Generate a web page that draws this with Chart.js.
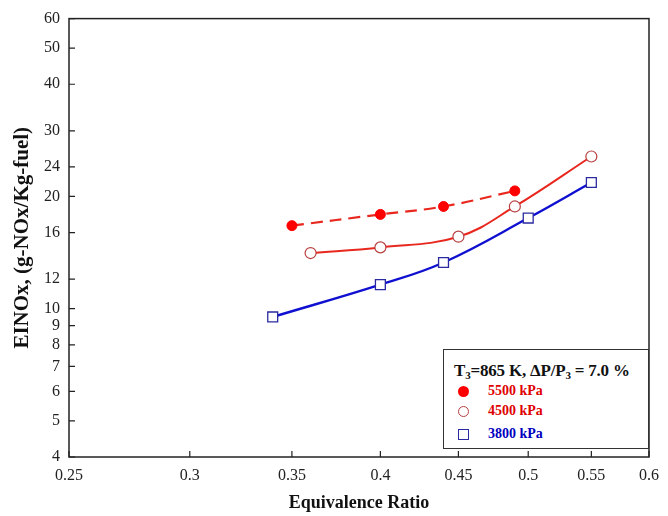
<!DOCTYPE html>
<html>
<head>
<meta charset="utf-8">
<script src="https://cdn.jsdelivr.net/npm/chart.js@4.4.1/dist/chart.umd.min.js"></script>
<style>
  body { margin: 0; background: #fff; }
  #wrap { position: relative; width: 668px; height: 516px; }
  #legend {
    position: absolute; left: 443px; top: 349px; width: 204px; height: 98px;
    border: 1.6px solid #333; background: #fff;
    font-family: "Liberation Serif", "Times New Roman", serif; font-weight: bold;
  }
  #legend .head { position: absolute; left: 10px; top: 11px; font-size: 17px; color: #111; white-space: nowrap; letter-spacing: -0.2px; }
  #legend .head sub { font-size: 11px; vertical-align: -3px; line-height: 0; }
  #legend .row { position: absolute; left: 14px; font-size: 14px; white-space: nowrap; }
  #legend .row .mk { position: absolute; left: 0; top: 3px; box-sizing: border-box; }
  #legend .row .tx { position: absolute; left: 30px; top: 0; }
  .dot { width: 11px; height: 11px; border-radius: 50%; background: #ff0000; }
  .ring { width: 11px; height: 11px; border-radius: 50%; border: 1.3px solid #b84040; background: #fff; }
  .sq { width: 11px; height: 11px; border: 1.3px solid #2a2aa0; background: #fff; }
</style>
</head>
<body>
<div id="wrap">
  <canvas id="chart" width="668" height="516"></canvas>
  <div id="legend">
    <div class="head">T<sub>3</sub>=865 K, ΔP/P<sub>3</sub> = 7.0 %</div>
    <div class="row" style="top:33px"><span class="mk dot"></span><span class="tx" style="color:#e00000">5500 kPa</span></div>
    <div class="row" style="top:53px"><span class="mk ring"></span><span class="tx" style="color:#e00000">4500 kPa</span></div>
    <div class="row" style="top:76px"><span class="mk sq"></span><span class="tx" style="color:#0000c0">3800 kPa</span></div>
  </div>
</div>
<script>
// Data
const phi5500 = [0.35, 0.40, 0.44, 0.49];
const ei5500 = [16.7, 17.9, 18.8, 20.7];
const phi4500 = [0.36, 0.40, 0.45, 0.49, 0.55];
const ei4500 = [14.1, 14.6, 15.6, 18.8, 25.6];
const phi3800 = [0.34, 0.40, 0.44, 0.50, 0.55];
const ei3800 = [9.5, 11.6, 13.3, 17.5, 21.8];

const xTicks = [0.25, 0.3, 0.35, 0.4, 0.45, 0.5, 0.55, 0.6];
const yTicks = [4, 5, 6, 7, 8, 9, 10, 12, 16, 20, 24, 30, 40, 50, 60];

function toPoints(xs, ys) {
  return xs.map((x, i) => ({ x: x, y: ys[i] }));
}

const serif = '"Liberation Serif", "Times New Roman", serif';

// Frame and inward tick marks
const framePlugin = {
  id: 'frame',
  afterDraw(chart) {
    const ctx = chart.ctx;
    const a = chart.chartArea;
    const xs = chart.scales.x;
    const ys = chart.scales.y;
    ctx.save();
    ctx.strokeStyle = '#222';
    ctx.lineWidth = 1.5;
    ctx.strokeRect(a.left, a.top, a.right - a.left, a.bottom - a.top);
    ctx.lineWidth = 1.2;
    ctx.beginPath();
    xTicks.forEach(v => {
      const px = xs.getPixelForValue(v);
      ctx.moveTo(px, a.bottom);
      ctx.lineTo(px, a.bottom - 6);
    });
    yTicks.forEach(v => {
      const py = ys.getPixelForValue(v);
      ctx.moveTo(a.left, py);
      ctx.lineTo(a.left + 6, py);
    });
    ctx.stroke();
    ctx.restore();
  }
};

new Chart(document.getElementById('chart'), {
  type: 'scatter',
  data: {
    datasets: [
      {
        label: '5500 kPa',
        data: toPoints(phi5500, ei5500),
        showLine: true,
        borderColor: '#e8281e',
        borderWidth: 2.2,
        borderDash: [12, 7],
        tension: 0.4,
        pointStyle: 'circle',
        pointRadius: 5,
        pointBackgroundColor: '#ff0000',
        pointBorderColor: '#ff0000',
        pointBorderWidth: 1
      },
      {
        label: '4500 kPa',
        data: toPoints(phi4500, ei4500),
        showLine: true,
        borderColor: '#e8281e',
        borderWidth: 2,
        tension: 0.4,
        pointStyle: 'circle',
        pointRadius: 5.5,
        pointBackgroundColor: '#ffffff',
        pointBorderColor: '#b84040',
        pointBorderWidth: 1.2
      },
      {
        label: '3800 kPa',
        data: toPoints(phi3800, ei3800),
        showLine: true,
        borderColor: '#1010d0',
        borderWidth: 2.4,
        tension: 0.4,
        pointStyle: 'rect',
        pointRadius: 7,
        pointBackgroundColor: '#ffffff',
        pointBorderColor: '#2a2aa0',
        pointBorderWidth: 1.3
      }
    ]
  },
  options: {
    responsive: false,
    animation: false,
    devicePixelRatio: 1,
    layout: { padding: { top: 16, right: 11, left: 0, bottom: 0 } },
    plugins: {
      legend: { display: false },
      tooltip: { enabled: false }
    },
    scales: {
      x: {
        type: 'logarithmic',
        min: 0.25,
        max: 0.6,
        afterBuildTicks(scale) { scale.ticks = xTicks.map(v => ({ value: v })); },
        afterFit(scale) { scale.height = 59; },
        grid: { display: false, drawTicks: false },
        border: { display: false },
        ticks: {
          autoSkip: false,
          maxRotation: 0,
          padding: 9,
          color: '#222',
          font: { family: serif, size: 16 },
          callback: v => String(v)
        },
        title: {
          display: true,
          text: 'Equivalence Ratio',
          color: '#111',
          font: { family: serif, size: 18, weight: 'bold' },
          padding: { top: 0, bottom: 2 }
        }
      },
      y: {
        type: 'logarithmic',
        min: 4,
        max: 60,
        afterBuildTicks(scale) { scale.ticks = yTicks.map(v => ({ value: v })); },
        afterFit(scale) { scale.width = 69; },
        grid: { display: false, drawTicks: false },
        border: { display: false },
        ticks: {
          autoSkip: false,
          padding: 9,
          color: '#222',
          font: { family: serif, size: 16 },
          callback: v => String(v)
        },
        title: {
          display: true,
          text: 'EINOx, (g-NOx/Kg-fuel)',
          color: '#111',
          font: { family: serif, size: 21, weight: 'bold' },
          padding: { top: 10, bottom: 0 }
        }
      }
    }
  },
  plugins: [framePlugin]
});
</script>
</body>
</html>
